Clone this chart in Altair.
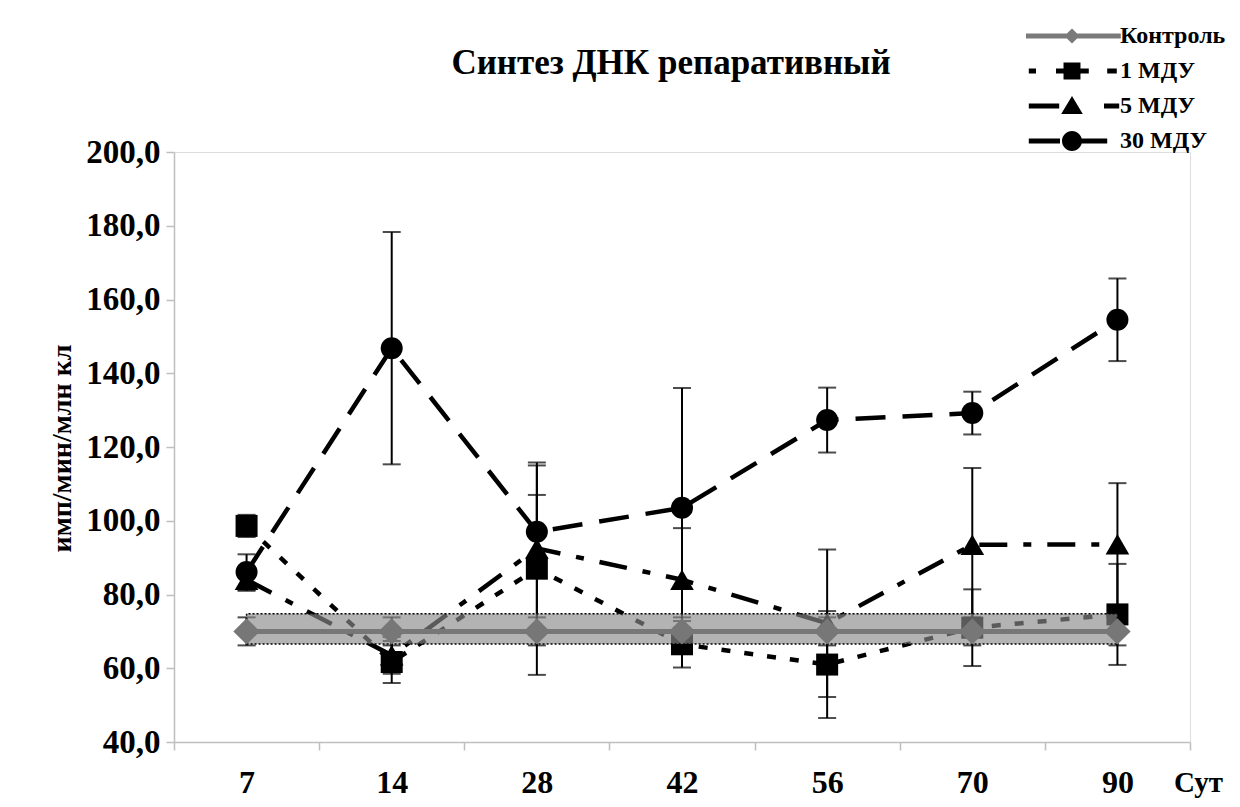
import altair as alt
import pandas as pd

days = ["7", "14", "28", "42", "56", "70", "90"]
series_names = ["Контроль", "1 МДУ", "5 МДУ", "30 МДУ"]

control = [70.0, 70.0, 70.0, 70.0, 70.0, 70.0, 70.0]
control_err = [3.8, 3.8, 3.8, 3.8, 3.8, 3.8, 3.8]
band_lo = [66.6, 66.6, 66.6, 66.6, 66.6, 66.6, 66.6]
band_hi = [74.8, 74.8, 74.8, 74.8, 74.8, 74.8, 74.8]

mdu1 = [98.6, 61.7, 87.0, 66.5, 61.0, 71.0, 74.6]
mdu1_err = [3.0, 5.7, 28.8, 6.3, 14.5, 10.4, 13.7]
mdu5 = [84.0, 63.5, 92.5, 84.0, 72.2, 93.5, 93.6]
mdu5_err = [3.0, 5.0, 22.5, 14.0, 20.0, 20.8, 16.6]
mdu30 = [86.1, 146.8, 97.0, 103.5, 127.3, 129.2, 154.5]
mdu30_err = [4.8, 31.5, 10.0, 32.5, 8.8, 5.8, 11.2]

y_ticks = [40, 60, 80, 100, 120, 140, 160, 180, 200]

rows = []
for name, vals, errs in [("Контроль", control, control_err), ("1 МДУ", mdu1, mdu1_err),
                         ("5 МДУ", mdu5, mdu5_err), ("30 МДУ", mdu30, mdu30_err)]:
    for d, v, e in zip(days, vals, errs):
        rows.append({"day": d, "series": name, "value": v, "lo": v - e, "hi": v + e})
df = pd.DataFrame(rows)
band_df = pd.DataFrame({"day": days, "blo": band_lo, "bhi": band_hi})

FONT = "Liberation Serif"
AX = "#bfbfbf"

x_enc = alt.X("day:N", sort=days,
              scale=alt.Scale(type="band", domain=days, paddingInner=0, paddingOuter=0),
              axis=alt.Axis(title="Сут", labelAngle=0, tickBand="extent", tickSize=8,
                            tickColor=AX, domainColor=AX, tickWidth=1.5, domainWidth=1.5,
                            labelFont=FONT, labelFontWeight="bold", labelFontSize=32,
                            labelColor="black", labelBaseline="middle", labelPadding=32,
                            titleFont=FONT, titleFontWeight="bold", titleFontSize=29,
                            titleColor="black", titleX=1024, titleY=40,
                            titleAlign="center", titleBaseline="middle", grid=False))
y_scale = alt.Scale(domain=[40, 200], nice=False, zero=False)
y_axis = alt.Axis(values=y_ticks, labelExpr="replace(format(datum.value, '.1f'), '.', ',')",
                  tickSize=8, tickColor=AX, domainColor=AX, tickWidth=1.5, domainWidth=1.5,
                  grid=False, labelFont=FONT, labelFontWeight="bold", labelFontSize=33,
                  labelColor="black", labelPadding=6,
                  title="имп/мин/млн кл", titleFont=FONT, titleFontWeight="bold",
                  titleFontSize=28, titleColor="black", titleAngle=-90,
                  titleX=-112, titleY=296, titleAlign="center", titleBaseline="middle")

base = alt.Chart(df)

err_rule = base.mark_rule(color="black", strokeWidth=2).encode(
    x=x_enc, y=alt.Y("lo:Q", scale=y_scale, axis=y_axis), y2="hi:Q")
cap_lo = base.mark_tick(color="black", thickness=2, size=18).encode(
    x=x_enc, y=alt.Y("lo:Q", scale=y_scale))
cap_hi = base.mark_tick(color="black", thickness=2, size=18).encode(
    x=x_enc, y=alt.Y("hi:Q", scale=y_scale))

styles = {
    "1 МДУ": ([9, 14], "square", 484),
    "5 МДУ": ([28, 16, 8, 16], "triangle-up", 560),
    "30 МДУ": ([30, 17], "circle", 484),
}
series_layers = []
for name in ["1 МДУ", "5 МДУ", "30 МДУ"]:
    dash, shape, size = styles[name]
    sub = base.transform_filter(alt.datum.series == name)
    series_layers.append(sub.mark_line(color="black", strokeWidth=4.5, strokeDash=dash).encode(
        x=x_enc, y=alt.Y("value:Q", scale=y_scale)))
for name in ["1 МДУ", "5 МДУ", "30 МДУ"]:
    dash, shape, size = styles[name]
    sub = base.transform_filter(alt.datum.series == name)
    series_layers.append(sub.mark_point(filled=True, shape=shape, size=size, color="black",
                                        opacity=1).encode(
        x=x_enc, y=alt.Y("value:Q", scale=y_scale)))

band = alt.Chart(band_df).mark_area(fill="#8a8a8a", fillOpacity=0.65, stroke="black",
                                    strokeWidth=1.5, strokeDash=[2, 2]).encode(
    x=x_enc, y=alt.Y("blo:Q", scale=y_scale), y2="bhi:Q")

ctrl = base.transform_filter(alt.datum.series == "Контроль")
ctrl_line = ctrl.mark_line(color="#777777", strokeWidth=5).encode(
    x=x_enc, y=alt.Y("value:Q", scale=y_scale))
ctrl_pts = ctrl.mark_point(filled=True, shape="diamond", size=700, color="#777777",
                           opacity=1).encode(x=x_enc, y=alt.Y("value:Q", scale=y_scale))

legend_paths = [
    "M-5.75,-0.31H6.1V0.31H-5.75Z M0,-0.95L0.95,0L0,0.95L-0.95,0Z",
    "M-5.4,-0.3H-4.5V0.3H-5.4Z M-2.0,-0.3H2.1V0.3H-2.0Z M-1.06,-1.06H1.06V1.06H-1.06Z M4.4,-0.3H5.6V0.3H4.4Z",
    "M-5.4,-0.3H-1.6V0.3H-5.4Z M0,-1.25L1.35,1.0H-1.35Z M4.0,-0.3H5.9V0.3H4.0Z",
    "M-5.4,-0.3H-1.5V0.3H-5.4Z M1.2,-0.3H4.4V0.3H1.2Z M-1.25,0A1.25,1.25 0 1,1 1.25,0A1.25,1.25 0 1,1 -1.25,0Z",
]
legend_colors = ["#7a7a7a", "black", "black", "black"]


def mk_legend():
    return alt.Legend(title=None, orient="none", legendX=886, legendY=-128, padding=0,
                      symbolOpacity=1, symbolSize=256, symbolStrokeWidth=0,
                      labelOffset=36, labelFont=FONT, labelFontWeight="bold",
                      labelFontSize=24, labelColor="black", rowPadding=11,
                      labelLimit=300)


legend_layer = base.mark_point(filled=True, opacity=0, size=256).encode(
    x=x_enc, y=alt.Y("value:Q", scale=y_scale),
    color=alt.Color("series:N", sort=series_names,
                    scale=alt.Scale(domain=series_names, range=legend_colors),
                    legend=mk_legend()),
    shape=alt.Shape("series:N", sort=series_names,
                    scale=alt.Scale(domain=series_names, range=legend_paths),
                    legend=mk_legend()),
)

chart = alt.layer(err_rule, cap_lo, cap_hi, *series_layers, band, ctrl_line, ctrl_pts,
                  legend_layer).properties(
    width=1016, height=590, autosize="none",
    padding={"left": 166, "top": 144, "right": 42, "bottom": 57},
    title=alt.TitleParams("Синтез ДНК репаративный", font=FONT, fontSize=35,
                          fontWeight="bold", color="black", anchor="middle", frame="group",
                          dx=-11, dy=85, offset=0, baseline="alphabetic"),
).configure_view(stroke=None).configure(background="white")

chart.save("out.html", embed_options={"renderer": "svg", "actions": False})
